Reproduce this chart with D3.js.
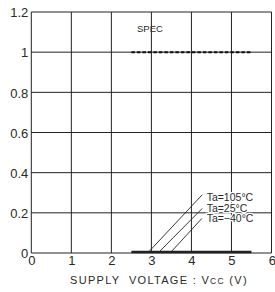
<!DOCTYPE html>
<html>
<head>
<meta charset="utf-8">
<script src="https://cdn.jsdelivr.net/npm/d3@7"></script>
<style>
  body { margin: 0; background: #fff; }
  svg text { font-family: "Liberation Sans", Arial, sans-serif; fill: #2a2a2a; }
</style>
</head>
<body>
<script>
// data
var xTicks = [0, 1, 2, 3, 4, 5, 6];
var yTicks = [0, 0.2, 0.4, 0.6, 0.8, 1, 1.2];
var yTickLabels = ["0", "0.2", "0.4", "0.6", "0.8", "1", "1.2"];
var curveV = [2.5, 5.5];          // measured range of supply voltage
var curveVal = [0, 0];            // output stays at 0 for all temperatures
var specV = [2.5, 5.5];
var specVal = [1, 1];
var temps = ["Ta=105°C", "Ta=25°C", "Ta=−40°C"];
var leaderFromV = [2.93, 3.19, 3.49];
var leaderToV = [4.27, 4.27, 4.26];
var leaderToVal = [0.29, 0.222, 0.172];
var labelVal = [0.26, 0.206, 0.153];

var width = 275, height = 292;
var margin = { top: 12, right: 3.5, bottom: 39, left: 31.3 };

var svg = d3.select("body").append("svg")
  .attr("width", width)
  .attr("height", height);

var x = d3.scaleLinear().domain([0, 6]).range([margin.left, width - margin.right]);
var y = d3.scaleLinear().domain([0, 1.2]).range([height - margin.bottom, margin.top]);

//grid
svg.selectAll(".vgrid").data(xTicks).enter().append("line")
  .attr("x1", d => x(d)).attr("x2", d => x(d))
  .attr("y1", y(0)).attr("y2", y(1.2))
  .attr("stroke", "#222").attr("stroke-width", 1);
svg.selectAll(".hgrid").data(yTicks).enter().append("line")
  .attr("x1", x(0)).attr("x2", x(6))
  .attr("y1", d => y(d)).attr("y2", d => y(d))
  .attr("stroke", "#222").attr("stroke-width", 1);

//axes (labels only)
var yAxis = svg.append("g")
  .attr("transform", `translate(${x(0) - 3},0)`)
  .call(d3.axisLeft(y).tickValues(yTicks).tickSize(0).tickPadding(0)
    .tickFormat((d, i) => yTickLabels[i]));
yAxis.select(".domain").remove();
yAxis.selectAll("text").style("font-size", "13px").attr("dy", "0.36em");

var xAxis = svg.append("g")
  .attr("transform", `translate(0,${y(0) + 3})`)
  .call(d3.axisBottom(x).tickValues(xTicks).tickSize(0).tickPadding(0)
    .tickFormat(d3.format("d")));
xAxis.select(".domain").remove();
xAxis.selectAll("text").style("font-size", "13px");
// last tick label would be cut at the right edge
xAxis.selectAll(".tick").filter(d => d === 6).select("text").attr("text-anchor", "end").attr("x", 4);

svg.append("text")
  .attr("x", 70).attr("y", 284)
  .style("font-size", "11px")
  .style("letter-spacing", "1.3px")
  .style("white-space", "pre")
  .text("SUPPLY  VOLTAGE : V")
  .append("tspan").style("font-size", "8.5px").text("CC")
  .append("tspan").style("font-size", "11px").text(" (V)");

//spec line
var line = d3.line().x(d => x(d[0])).y(d => y(d[1]));
svg.append("path")
  .attr("d", line(d3.zip(specV, specVal)))
  .attr("fill", "none").attr("stroke", "#111")
  .attr("stroke-width", 2).attr("stroke-dasharray", "3.5,2");
svg.append("text")
  .attr("x", 137).attr("y", 32.3)
  .style("font-size", "9.5px")
  .text("SPEC");

//curves (all on 0)
svg.append("path")
  .attr("d", line(d3.zip(curveV, curveVal)))
  .attr("transform", "translate(0,-1)")
  .attr("fill", "none").attr("stroke", "#222").attr("stroke-width", 2.5);

//leaders and labels
svg.selectAll(".leader").data(temps).enter().append("line")
  .attr("x1", (d, i) => x(leaderFromV[i])).attr("y1", y(0) - 1)
  .attr("x2", (d, i) => x(leaderToV[i])).attr("y2", (d, i) => y(leaderToVal[i]))
  .attr("stroke", "#222").attr("stroke-width", 0.9);

svg.selectAll(".lbl").data(temps).enter().append("text")
  .attr("x", x(4.38)).attr("y", (d, i) => y(labelVal[i]))
  .style("font-size", "10.5px")
  .attr("stroke", "#fff").attr("stroke-width", 2.5)
  .attr("paint-order", "stroke")
  .text(d => d);
</script>
</body>
</html>
